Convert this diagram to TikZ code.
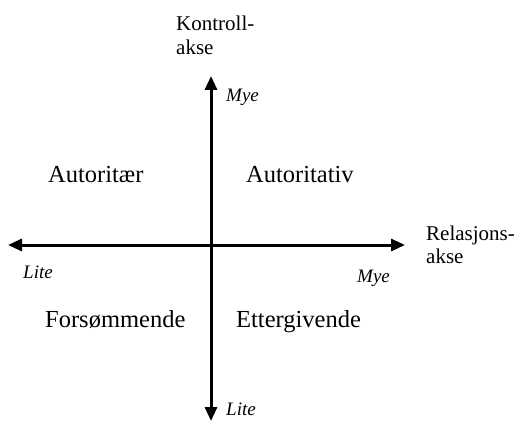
\documentclass[tikz,border=0pt]{standalone}
\usepackage{fontspec}
\setmainfont{Liberation Serif}
\usetikzlibrary{arrows.meta}
\begin{document}
\begin{tikzpicture}[x=1pt,y=-1pt,
  axisline/.style={line width=3pt,-{Triangle[length=14pt,width=12pt]}},
  quad/.style={anchor=base west,inner sep=0pt,font=\fontsize{24.5}{28}\selectfont},
  axlabel/.style={anchor=base west,inner sep=0pt,font=\fontsize{21}{24}\selectfont},
  small/.style={anchor=base west,inner sep=0pt,font=\fontsize{19}{20}\selectfont\itshape}]
\useasboundingbox (0,0) rectangle (518,422);
\coordinate (o) at (211,245);
\coordinate (top) at (211,76);
\coordinate (bot) at (211,421);
\coordinate (lft) at (8,245);
\coordinate (rgt) at (405,245);
\draw[axisline] (o) -- (top);
\draw[axisline] (o) -- (bot);
\draw[axisline] (o) -- (lft);
\draw[axisline] (o) -- (rgt);
\node[axlabel] (kl) at (176,31) {Kontroll-};
\node[axlabel] (kl2) at (176,55) {akse};
\node[axlabel] (rl) at (426,240) {Relasjons-};
\node[axlabel] (rl2) at (426,263) {akse};
\node[small] (mt) at (226,102) {Mye};
\node[small] (ll) at (23,278) {Lite};
\node[small] (mr) at (357,282) {Mye};
\node[small] (lb) at (226,415) {Lite};
\node[quad] (q1) at (48,182) {Autoritær};
\node[quad] (q2) at (246,182) {Autoritativ};
\node[quad] (q3) at (45,327) {Forsømmende};
\node[quad] (q4) at (236,327) {Ettergivende};
\end{tikzpicture}
\end{document}
